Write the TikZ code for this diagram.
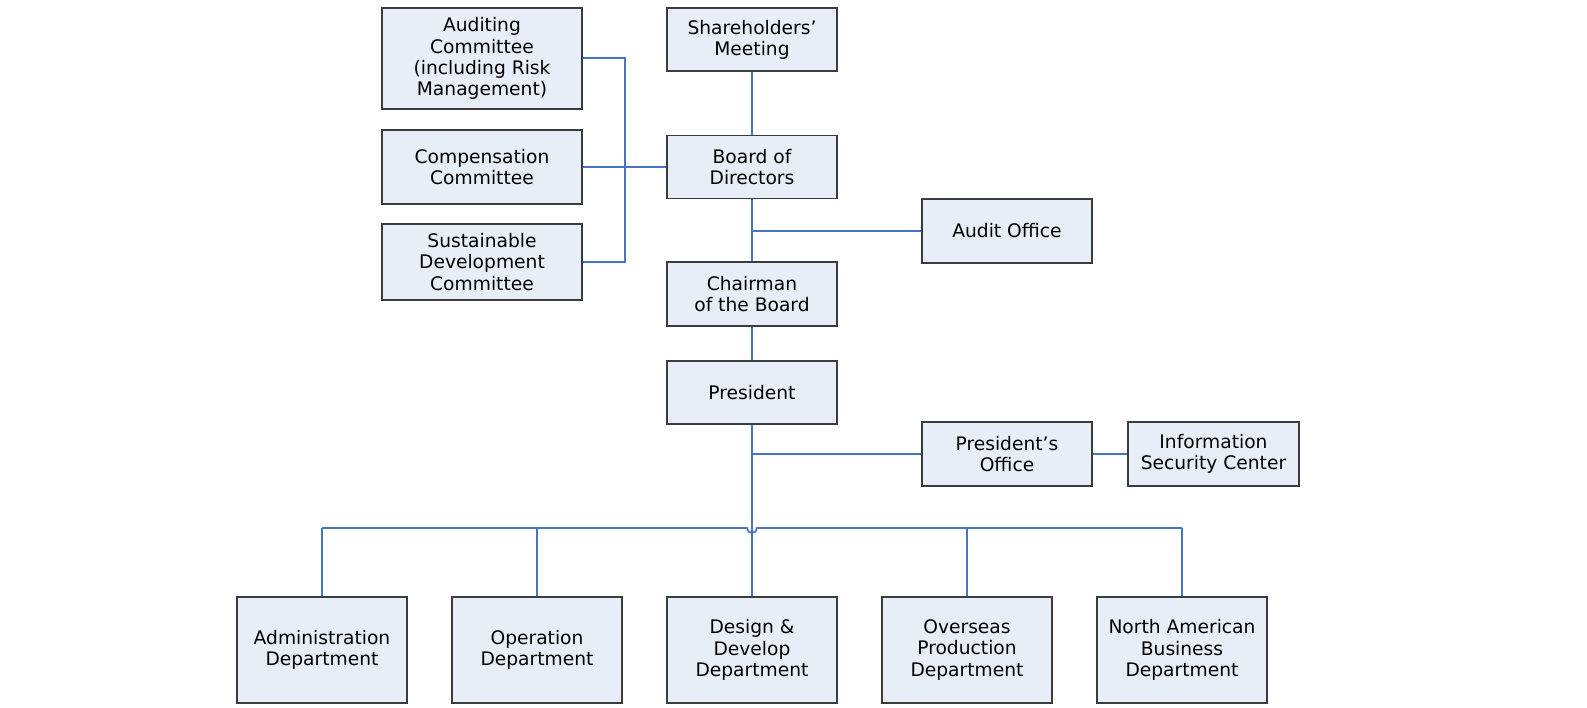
\documentclass[tikz,border=0pt]{standalone}
\usepackage{fontspec}
\setmainfont{DejaVu Sans}
\begin{document}
\begin{tikzpicture}[x=0.75pt,y=-0.75pt,
  box/.style={draw=boxline,fill=boxfill,line width=0.9pt,align=center,inner sep=0pt,
    font=\fontsize{14pt}{15.9pt}\selectfont,minimum width=127.5pt},
  link/.style={draw=linkblue,line width=1.3pt}]
\definecolor{boxfill}{RGB}{232,238,248}
\definecolor{boxline}{RGB}{60,60,60}
\definecolor{linkblue}{RGB}{72,116,198}
\useasboundingbox (0,0) rectangle (1587,707);
% top section
\node[box,minimum width=150pt,minimum height=75.75pt] (aud) at (482,58.5) {Auditing\\Committee\\(including Risk\\Management)};
\node[box,minimum width=150pt,minimum height=55.5pt] (comp) at (482,167) {Compensation\\Committee};
\node[box,minimum width=150pt,minimum height=57pt] (sust) at (482,262) {Sustainable\\Development\\Committee};
\node[box,minimum height=47.25pt] (share) at (752,39.5) {Shareholders’\\Meeting};
\node[box,minimum height=47.25pt] (board) at (752,167) {Board of\\Directors};
\node[box,minimum height=48pt] (audo) at (1007,231) {Audit Office};
\node[box,minimum height=48pt] (chair) at (752,294) {Chairman\\of the Board};
\node[box,minimum height=47.25pt] (pres) at (752,392.5) {President};
\node[box,minimum height=48pt] (poff) at (1007,454) {President’s\\Office};
\node[box,minimum width=128.25pt,minimum height=48pt] (isc) at (1213.5,454) {Information\\Security Center};
% bottom departments
\node[box,minimum height=79.5pt] (adm) at (322,650) {Administration\\Department};
\node[box,minimum height=79.5pt] (ope) at (537,650) {Operation\\Department};
\node[box,minimum height=79.5pt] (des) at (752,650) {Design \&\\Develop\\Department};
\node[box,minimum height=79.5pt] (ovs) at (967,650) {Overseas\\Production\\Department};
\node[box,minimum height=79.5pt] (nab) at (1182,650) {North American\\Business\\Department};
% coordinates
\coordinate (lb) at (625,58);
\coordinate (lb2) at (625,262);
\coordinate (ja) at (752,231);
\coordinate (jp) at (752,454);
\coordinate (bl) at (322,528);
\coordinate (bo) at (537,528);
\coordinate (hl) at (747,528);
\coordinate (bv) at (967,528);
\coordinate (br) at (1182,528);
% connectors
\draw[link] (aud.east |- lb) -- (lb) -- (lb2) -- (sust.east |- lb2);
\draw[link] (comp.east) -- (board.west);
\draw[link] (share.south) -- (board.north);
\draw[link] (board.south) -- (chair.north);
\draw[link] (ja) -- (audo.west);
\draw[link] (chair.south) -- (pres.north);
\draw[link] (pres.south) -- (des.north);
\draw[link] (jp) -- (poff.west);
\draw[link] (poff.east) -- (isc.west);
\draw[link] (bl) -- (hl) arc[start angle=180,end angle=0,radius=5] -- (br);
\draw[link] (bl) -- (adm.north);
\draw[link] (bo) -- (ope.north);
\draw[link] (bv) -- (ovs.north);
\draw[link] (br) -- (nab.north);
\end{tikzpicture}
\end{document}
